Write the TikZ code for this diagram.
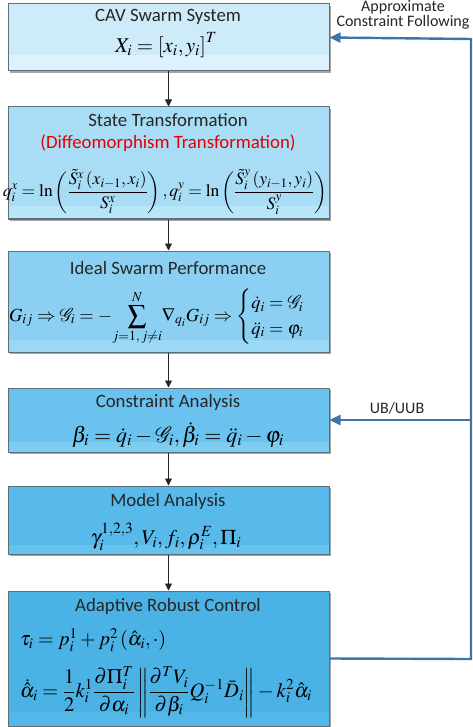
\documentclass[tikz,border=0pt]{standalone}
\usepackage{amsmath}
\usepackage{mathptmx}
\usepackage[no-math]{fontspec}
\setmainfont{Carlito}
\usetikzlibrary{calc,arrows.meta}

\definecolor{fillA}{HTML}{CDEBF9}
\definecolor{stripA}{HTML}{DDF2FC}
\definecolor{fillB}{HTML}{A9DDF6}
\definecolor{stripB}{HTML}{B9E5F9}
\definecolor{fillC}{HTML}{8BD0F2}
\definecolor{stripC}{HTML}{9BD8F5}
\definecolor{fillD}{HTML}{6AC3EE}
\definecolor{stripD}{HTML}{7DCCF1}
\definecolor{fillE}{HTML}{57BAEA}
\definecolor{stripE}{HTML}{67C2ED}
\definecolor{fillF}{HTML}{4AB2E5}
\definecolor{stripF}{HTML}{53B7E8}
\definecolor{boxline}{HTML}{5B6F7C}
\definecolor{fbline}{HTML}{3F74A9}
\definecolor{txt}{HTML}{262626}

\tikzset{
  cavbox/.style n args={4}{draw=boxline, line width=1pt, fill=#1,
    minimum width=321pt, minimum height=#3pt, inner sep=0pt,
    path picture={\fill[#2] ($(path picture bounding box.south west)+(0,-#4)$)
      rectangle (path picture bounding box.south east);}},
  shade/.style={fill=black!35, minimum width=321pt, inner sep=0pt},
  title/.style={text=txt, font=\fontsize{18.8}{21}\selectfont, inner sep=0pt},
  formula/.style={text=black, font=\fontsize{20}{24}\selectfont, inner sep=0pt},
  flow/.style={draw=txt, line width=0.9pt, -{Triangle[length=7pt,width=7pt]}},
  fb/.style={draw=fbline, line width=2.4pt},
  fblabel/.style={text=txt, font=\fontsize{16}{12.5}\selectfont, align=center, inner sep=0pt}
}

\begin{document}
\begin{tikzpicture}[x=1pt,y=-1pt]
  \useasboundingbox (0,0) rectangle (472,727);

  % drop shadows
  \foreach \cy/\h in {37.5/67, 163/112, 301.5/101, 420/64, 520/68, 658.5/135}
    \node[shade, minimum height=\h pt] at (170.5,\cy+2) {};

  % boxes
  \node[cavbox={fillA}{stripA}{67}{16}] (B1) at (168.5,37.5) {};
  \node[cavbox={fillB}{stripB}{112}{13}] (B2) at (168.5,163) {};
  \node[cavbox={fillC}{stripC}{101}{12}] (B3) at (168.5,301.5) {};
  \node[cavbox={fillD}{stripD}{64}{10}] (B4) at (168.5,420) {};
  \node[cavbox={fillE}{stripE}{68}{9}] (B5) at (168.5,520) {};
  \node[cavbox={fillF}{stripF}{135}{14}] (B6) at (168.5,658.5) {};

  % texts
  \node[title] (T1) at (168,17) {CAV Swarm System};
  \node[formula, font=\fontsize{21}{24}\selectfont] (M1) at (166,45) {$X_i=\left[x_i,y_i\right]^T$};
  \node[title] (T2) at (168,120) {State Transformation};
  \node[title, text=red!90!black] (R2) at (168,143) {(Diffeomorphism Transformation)};
  \node[formula, font=\fontsize{17.5}{20}\selectfont] (M2) at (165,192) {$\displaystyle q_i^x=\ln\left(\frac{\tilde S_i^x\left(x_{i-1},x_i\right)}{S_i^x}\right),q_i^y=\ln\left(\frac{\tilde S_i^y\left(y_{i-1},y_i\right)}{S_i^y}\right)$};
  \node[title] (T3) at (168,268) {Ideal Swarm Performance};
  \node[formula, font=\fontsize{18.5}{21}\selectfont] (M3) at (166,317) {$\displaystyle G_{ij}\Rightarrow\mathcal{G}_i=-\!\sum_{j=1,\,j\neq i}^{N}\!\nabla_{q_i}G_{ij}\Rightarrow\begin{cases}\dot q_i=\mathcal{G}_i\\ \ddot q_i=\varphi_i\end{cases}$};
  \node[title] (T4) at (168,402) {Constraint Analysis};
  \node[formula, font=\fontsize{22}{24}\selectfont] (M4) at (178,435) {$\beta_i=\dot q_i-\mathcal{G}_i,\dot\beta_i=\ddot q_i-\varphi_i$};
  \node[title] (T5) at (168,501) {Model Analysis};
  \node[formula, font=\fontsize{21}{24}\selectfont] (M5) at (166,537) {$\gamma_i^{1,2,3},V_i,f_i,\rho_i^E,\Pi_i$};
  \node[title] (T6) at (168,606) {Adaptive Robust Control};
  \node[formula, anchor=west] (M6a) at (20,640) {$\tau_i=p_i^1+p_i^2\left(\hat\alpha_i,\cdot\right)$};
  \node[formula, anchor=west, font=\fontsize{20.5}{24}\selectfont] (M6b) at (20,692) {$\displaystyle\dot{\hat\alpha}_i=\frac{1}{2}k_i^1\frac{\partial\Pi_i^T}{\partial\alpha_i}\left\|\frac{\partial^T V_i}{\partial\beta_i}Q_i^{-1}\bar D_i\right\|-k_i^2\hat\alpha_i$};

  % main flow
  \draw[flow] (B1) -- (B2);
  \draw[flow] (B2) -- (B3);
  \draw[flow] (B3) -- (B4);
  \draw[flow] (B4) -- (B5);
  \draw[flow] (B5) -- (B6);

  % feedback
  \coordinate (C1) at (471,39);
  \coordinate (C4) at (471,420);
  \coordinate (C6) at (471,659);
  \draw[fb, -{Triangle[length=11pt,width=10pt]}] (B6.east) -- (C6) -- (C1) -- (B1.east);
  \draw[fb, -{Triangle[length=11pt,width=10pt]}] (C4) -- (B4.east);
  \node[fblabel] (L1) at (403,15) {Approximate\\Constraint Following};
  \node[fblabel] (L2) at (397,408) {UB/UUB};
\end{tikzpicture}
\end{document}
